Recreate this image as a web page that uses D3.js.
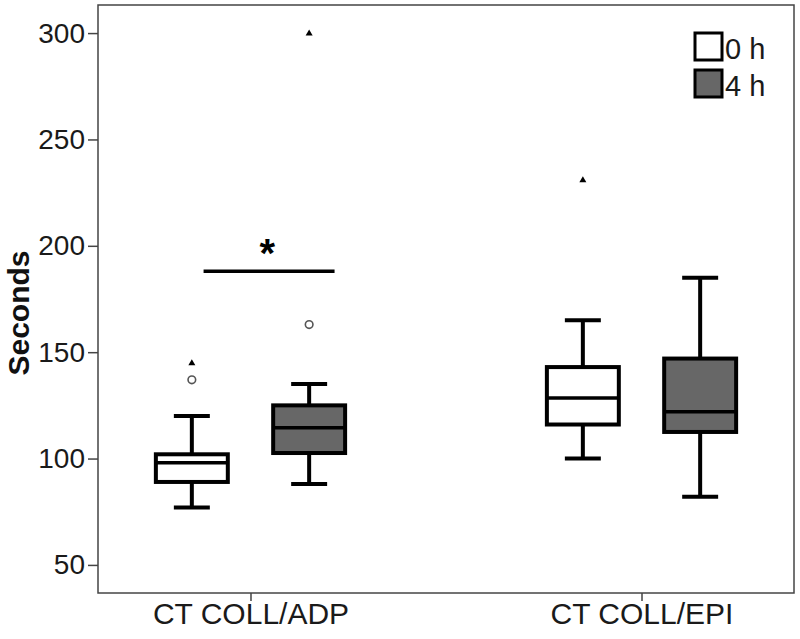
<!DOCTYPE html>
<html><head><meta charset="utf-8">
<script src="https://cdn.jsdelivr.net/npm/d3@7"></script>
<style>body{margin:0;background:#fff}svg{display:block}text{font-family:"Liberation Sans",Arial,sans-serif}</style>
</head><body><svg id="c" width="800" height="639"></svg>
<script>
const categories = ["CT COLL/ADP", "CT COLL/EPI"];
const series = ["0 h", "4 h"];
const yTicks = [50, 100, 150, 200, 250, 300];
// box statistics per series, one value per category
const whiskerLow  = {"0 h": [77, 100],   "4 h": [88, 82]};
const q1          = {"0 h": [89, 116],   "4 h": [102.6, 112.5]};
const median      = {"0 h": [98, 128.5], "4 h": [114.5, 122]};
const q3          = {"0 h": [102, 143],  "4 h": [125, 147]};
const whiskerHigh = {"0 h": [120, 165],  "4 h": [135, 185]};
// outliers: [categoryIndex, value]
const outliers = {"0 h": [[0, 137]], "4 h": [[0, 163]]};
const extremes = {"0 h": [[0, 145], [1, 231]], "4 h": [[0, 300]]};
// significance bracket
const sigCategory = 0, sigValue = 188, sigLabel = "*";

const fills = {"0 h": "#ffffff", "4 h": "#676767"};
const svg = d3.select("#c");
const L = 98, R = 794, T = 5, B = 593;
const x0 = d3.scalePoint().domain(categories).range([L, R]).padding(0.39);
const step = x0.step();
const x1 = d3.scalePoint().domain(series).range([-step * 0.15, step * 0.15]);
const bw = step * 0.184;
const y = d3.scaleLinear().domain([36.8, 313.2]).range([B, T]);

// frame
svg.append("rect").attr("x", L).attr("y", T).attr("width", R - L).attr("height", B - T)
  .attr("fill", "none").attr("stroke", "#444").attr("stroke-width", 1.5);

// y axis
const ya = svg.append("g").attr("transform", `translate(${L},0)`)
  .call(d3.axisLeft(y).tickValues(yTicks).tickSize(10).tickPadding(3));
ya.select(".domain").remove();
ya.selectAll("line").attr("stroke", "#444").attr("stroke-width", 1.5);
ya.selectAll("text").attr("font-size", 28).attr("fill", "#1a1a1a").attr("font-family", "Liberation Sans, Arial, sans-serif");

// x axis
const xa = svg.append("g").attr("transform", `translate(0,${B})`)
  .call(d3.axisBottom(x0).tickSize(8).tickPadding(2));
xa.select(".domain").remove();
xa.selectAll("line").attr("stroke", "#444").attr("stroke-width", 1.5);
xa.selectAll("text").attr("font-size", 30).attr("fill", "#1a1a1a").attr("dy", "0.71em")
  .attr("font-family", "Liberation Sans, Arial, sans-serif");

// y label
svg.append("text").attr("transform", `translate(29,${(T + B) / 2 + 14}) rotate(-90)`)
  .attr("text-anchor", "middle").attr("font-size", 30).attr("font-weight", "bold").attr("fill", "#111")
  .text("Seconds");

// boxes
const g = svg.append("g");
series.forEach(s => {
  categories.forEach((c, i) => {
    const cx = x0(c) + x1(s);
    const gg = g.append("g");
    gg.append("line").attr("x1", cx).attr("x2", cx).attr("y1", y(whiskerLow[s][i])).attr("y2", y(q1[s][i]))
      .attr("stroke", "#000").attr("stroke-width", 4);
    gg.append("line").attr("x1", cx).attr("x2", cx).attr("y1", y(q3[s][i])).attr("y2", y(whiskerHigh[s][i]))
      .attr("stroke", "#000").attr("stroke-width", 4);
    [whiskerLow[s][i], whiskerHigh[s][i]].forEach(v => {
      gg.append("line").attr("x1", cx - bw / 4).attr("x2", cx + bw / 4).attr("y1", y(v)).attr("y2", y(v))
        .attr("stroke", "#000").attr("stroke-width", 4);
    });
    gg.append("rect").attr("x", cx - bw / 2).attr("width", bw)
      .attr("y", y(q3[s][i])).attr("height", y(q1[s][i]) - y(q3[s][i]))
      .attr("fill", fills[s]).attr("stroke", "#000").attr("stroke-width", 4);
    gg.append("line").attr("x1", cx - bw / 2).attr("x2", cx + bw / 2).attr("y1", y(median[s][i])).attr("y2", y(median[s][i]))
      .attr("stroke", "#000").attr("stroke-width", 3.5);
  });
  outliers[s].forEach(([i, v]) => {
    g.append("circle").attr("cx", x0(categories[i]) + x1(s)).attr("cy", y(v)).attr("r", 3.8)
      .attr("fill", "#fff").attr("stroke", "#555").attr("stroke-width", 1.6);
  });
  extremes[s].forEach(([i, v]) => {
    const cx = x0(categories[i]) + x1(s), cy = y(v);
    g.append("path").attr("d", `M${cx},${cy - 3.5}L${cx + 3.5},${cy + 2.5}L${cx - 3.5},${cy + 2.5}Z`).attr("fill", "#000");
  });
});

// significance
const sc = x0(categories[sigCategory]);
svg.append("line").attr("x1", sc - step * 0.12).attr("x2", sc + step * 0.215)
  .attr("y1", y(sigValue)).attr("y2", y(sigValue)).attr("stroke", "#000").attr("stroke-width", 3.5);
svg.append("text").attr("x", sc + step * 0.043).attr("y", y(sigValue) - 4).attr("text-anchor", "middle")
  .attr("font-size", 40).attr("font-weight", "bold").attr("fill", "#000").text(sigLabel);

// legend
const lg = svg.append("g");
series.forEach((s, k) => {
  const yy = 33 + k * 37;
  lg.append("rect").attr("x", 695).attr("y", yy).attr("width", 27).attr("height", 27)
    .attr("fill", fills[s]).attr("stroke", "#000").attr("stroke-width", 3);
  lg.append("text").attr("x", 725).attr("y", yy + 26).attr("font-size", 29).attr("fill", "#1a1a1a").text(s);
});
</script></body></html>
